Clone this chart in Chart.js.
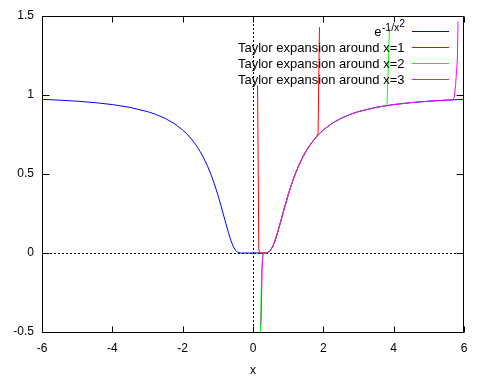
<!DOCTYPE html>
<html>
<head>
<meta charset="utf-8">
<script src="https://cdn.jsdelivr.net/npm/chart.js@4.4.0/dist/chart.umd.min.js"></script>
<style>
  html, body { margin: 0; padding: 0; background: #fff; }
  #wrap { width: 480px; height: 384px; }
</style>
</head>
<body>
<div id="wrap"><canvas id="chart" width="480" height="384"></canvas></div>
<script>
// e^(-1/x^2)
const fX = [-6, -5.5, -5, -4.5, -4, -3.5, -3, -2.75, -2.5, -2.25, -2, -1.9, -1.8, -1.7, -1.6, -1.5, -1.4, -1.3, -1.2, -1.1, -1, -0.9, -0.8, -0.7, -0.65, -0.6, -0.55, -0.5, -0.45, -0.4, -0.35, -0.3,
            0, 0.3, 0.35, 0.4, 0.45, 0.5, 0.55, 0.6, 0.65, 0.7, 0.8, 0.9, 1, 1.1, 1.2, 1.3, 1.4, 1.5, 1.6, 1.7, 1.8, 1.9, 2, 2.25, 2.5, 2.75, 3, 3.5, 4, 4.5, 5, 5.5, 6];
const fY = [0.9726, 0.9675, 0.9608, 0.9518, 0.9394, 0.9216, 0.8948, 0.8761, 0.8521, 0.8208, 0.7788, 0.7581, 0.7345, 0.7075, 0.6766, 0.6412, 0.6004, 0.5534, 0.4994, 0.4376, 0.3679, 0.2910, 0.2096, 0.1299, 0.0938, 0.0622, 0.0367, 0.0183, 0.0072, 0.0019, 0.0003, 0,
            0, 0, 0.0003, 0.0019, 0.0072, 0.0183, 0.0367, 0.0622, 0.0938, 0.1299, 0.2096, 0.2910, 0.3679, 0.4376, 0.4994, 0.5534, 0.6004, 0.6412, 0.6766, 0.7075, 0.7345, 0.7581, 0.7788, 0.8208, 0.8521, 0.8761, 0.8948, 0.9216, 0.9394, 0.9518, 0.9608, 0.9675, 0.9726];

// Taylor expansion around x=1 (red)
const t1X = [0.13, 0.165, 0.2, 0.3, 0.35, 0.4, 0.45, 0.5, 0.55, 0.6, 0.65, 0.7, 0.8, 0.9, 1, 1.1, 1.2, 1.3, 1.4, 1.5, 1.6, 1.7, 1.8, 1.85, 1.89];
const t1Y = [1.06, 0.02, 0, 0, 0.0003, 0.0019, 0.0072, 0.0183, 0.0367, 0.0622, 0.0938, 0.1299, 0.2096, 0.2910, 0.3679, 0.4376, 0.4994, 0.5534, 0.6004, 0.6412, 0.6766, 0.7075, 0.7345, 0.757, 1.43];

// Taylor expansion around x=2 (green)
const t2X = [0.205, 0.25, 0.28, 0.32, 0.4, 0.45, 0.5, 0.55, 0.6, 0.65, 0.7, 0.8, 0.9, 1, 1.1, 1.2, 1.3, 1.4, 1.5, 1.6, 1.7, 1.8, 1.9, 2, 2.25, 2.5, 2.75, 3, 3.25, 3.5, 3.75, 3.81, 3.88];
const t2Y = [-0.55, -0.08, -0.01, 0, 0.0019, 0.0072, 0.0183, 0.0367, 0.0622, 0.0938, 0.1299, 0.2096, 0.2910, 0.3679, 0.4376, 0.4994, 0.5534, 0.6004, 0.6412, 0.6766, 0.7075, 0.7345, 0.7581, 0.7788, 0.8208, 0.8521, 0.8761, 0.8948, 0.9097, 0.9216, 0.9314, 0.9335, 1.42];

// Taylor expansion around x=3 (magenta)
const t3X = [0.228, 0.26, 0.285, 0.32, 0.4, 0.45, 0.5, 0.55, 0.6, 0.65, 0.7, 0.8, 0.9, 1, 1.1, 1.2, 1.3, 1.4, 1.5, 1.6, 1.7, 1.8, 1.9, 2, 2.25, 2.5, 2.75, 3, 3.5, 4, 4.5, 5, 5.5, 5.67, 5.72, 5.76, 5.81, 5.83];
const t3Y = [-0.456, -0.1, -0.01, 0, 0.0019, 0.0072, 0.0183, 0.0367, 0.0622, 0.0938, 0.1299, 0.2096, 0.2910, 0.3679, 0.4376, 0.4994, 0.5534, 0.6004, 0.6412, 0.6766, 0.7075, 0.7345, 0.7581, 0.7788, 0.8208, 0.8521, 0.8761, 0.8948, 0.9216, 0.9394, 0.9518, 0.9608, 0.9675, 0.9694, 0.98, 1.06, 1.22, 1.465];

const keyLabels = ['Taylor expansion around x=1', 'Taylor expansion around x=2', 'Taylor expansion around x=3'];
const lineColors = ['#0000ff', '#ff0000', '#00ff00', '#ff00ff'];

const FONT = '"Liberation Sans", Arial, sans-serif';

function pts(xs, ys) {
  return xs.map((x, i) => ({ x: x, y: ys[i] }));
}

// gnuplot style frame, inward mirrored tics, dotted zero axes, key
const framePlugin = {
  id: 'gnuFrame',
  beforeDatasetsDraw(chart) {
    const { ctx, chartArea: a, scales: { x, y } } = chart;
    ctx.save();
    ctx.strokeStyle = '#000';
    ctx.lineWidth = 1;
    ctx.setLineDash([2, 2]);
    const y0 = Math.round(y.getPixelForValue(0)) + 0.5;
    const x0 = Math.round(x.getPixelForValue(0)) + 0.5;
    ctx.beginPath();
    ctx.moveTo(a.left, y0); ctx.lineTo(a.right, y0);
    ctx.moveTo(x0, a.top); ctx.lineTo(x0, a.bottom);
    ctx.stroke();
    ctx.restore();
  },
  afterDatasetsDraw(chart) {
    const { ctx, chartArea: a, scales: { x, y } } = chart;
    ctx.save();
    ctx.setLineDash([]);
    ctx.strokeStyle = '#000';
    ctx.lineWidth = 1;
    const L = a.left + 0.5, R = a.right - 0.5, T = a.top + 0.5, B = a.bottom + 0.5;
    ctx.beginPath();
    ctx.rect(L, T, R - L, B - T);
    x.ticks.forEach(t => {
      const p = Math.round(x.getPixelForValue(t.value)) + 0.5;
      ctx.moveTo(p, B); ctx.lineTo(p, B - 6);
      ctx.moveTo(p, T); ctx.lineTo(p, T + 6);
    });
    y.ticks.forEach(t => {
      const p = Math.round(y.getPixelForValue(t.value)) + 0.5;
      ctx.moveTo(L, p); ctx.lineTo(L + 7, p);
      ctx.moveTo(R, p); ctx.lineTo(R - 7, p);
    });
    ctx.stroke();

    // key, top right inside
    const textRight = 404.5, sL = 412, sR = 449;
    const rows = [31, 47, 63, 79];
    ctx.fillStyle = '#000';
    ctx.textAlign = 'left';
    ctx.textBaseline = 'alphabetic';
    const big = '13px ' + FONT, small = '10.4px ' + FONT;
    ctx.font = big; const wE = ctx.measureText('e').width;
    ctx.font = small; const wS = ctx.measureText('-1/x').width; const w2 = ctx.measureText('2').width;
    const sx = textRight - wE - wS - w2;
    ctx.font = big; ctx.fillText('e', sx, 36);
    ctx.font = small; ctx.fillText('-1/x', sx + wE + 0.5, 31);
    ctx.fillText('2', sx + wE + wS + 0.5, 27);
    ctx.font = big;
    ctx.textAlign = 'right';
    keyLabels.forEach((s, i) => ctx.fillText(s, textRight, rows[i + 1] + 4.5));
    rows.forEach((r, i) => {
      ctx.fillStyle = lineColors[i];
      ctx.fillRect(sL, r, sR - sL, 1);
    });
    ctx.restore();
  }
};

const series = [
  { xs: fX, ys: fY },
  { xs: t1X, ys: t1Y },
  { xs: t2X, ys: t2Y },
  { xs: t3X, ys: t3Y }
];

new Chart(document.getElementById('chart'), {
  type: 'scatter',
  data: {
    datasets: series.map((s, i) => ({
      data: pts(s.xs, s.ys),
      showLine: true,
      borderColor: lineColors[i],
      borderWidth: 1,
      pointRadius: 0,
      tension: 0,
      order: 3 - i
    }))
  },
  options: {
    responsive: false,
    animation: false,
    devicePixelRatio: 1,
    layout: { padding: { top: 16, right: 16, left: 0, bottom: 0 } },
    plugins: { legend: { display: false }, tooltip: { enabled: false } },
    scales: {
      x: {
        type: 'linear', min: -6, max: 6,
        afterFit: s => { s.height = 52; },
        grid: { display: false, drawTicks: false },
        border: { display: false },
        ticks: { stepSize: 2, padding: 9, color: '#000', font: { family: FONT, size: 12 } },
        title: { display: true, text: 'x', color: '#000', font: { family: FONT, size: 12 }, padding: { top: 0, bottom: 6 } }
      },
      y: {
        type: 'linear', min: -0.5, max: 1.5,
        afterFit: s => { s.width = 42; },
        grid: { display: false, drawTicks: false },
        border: { display: false },
        ticks: { stepSize: 0.5, padding: 8, color: '#000', font: { family: FONT, size: 12 }, callback: v => String(v) }
      }
    }
  },
  plugins: [framePlugin]
});
</script>
</body>
</html>
